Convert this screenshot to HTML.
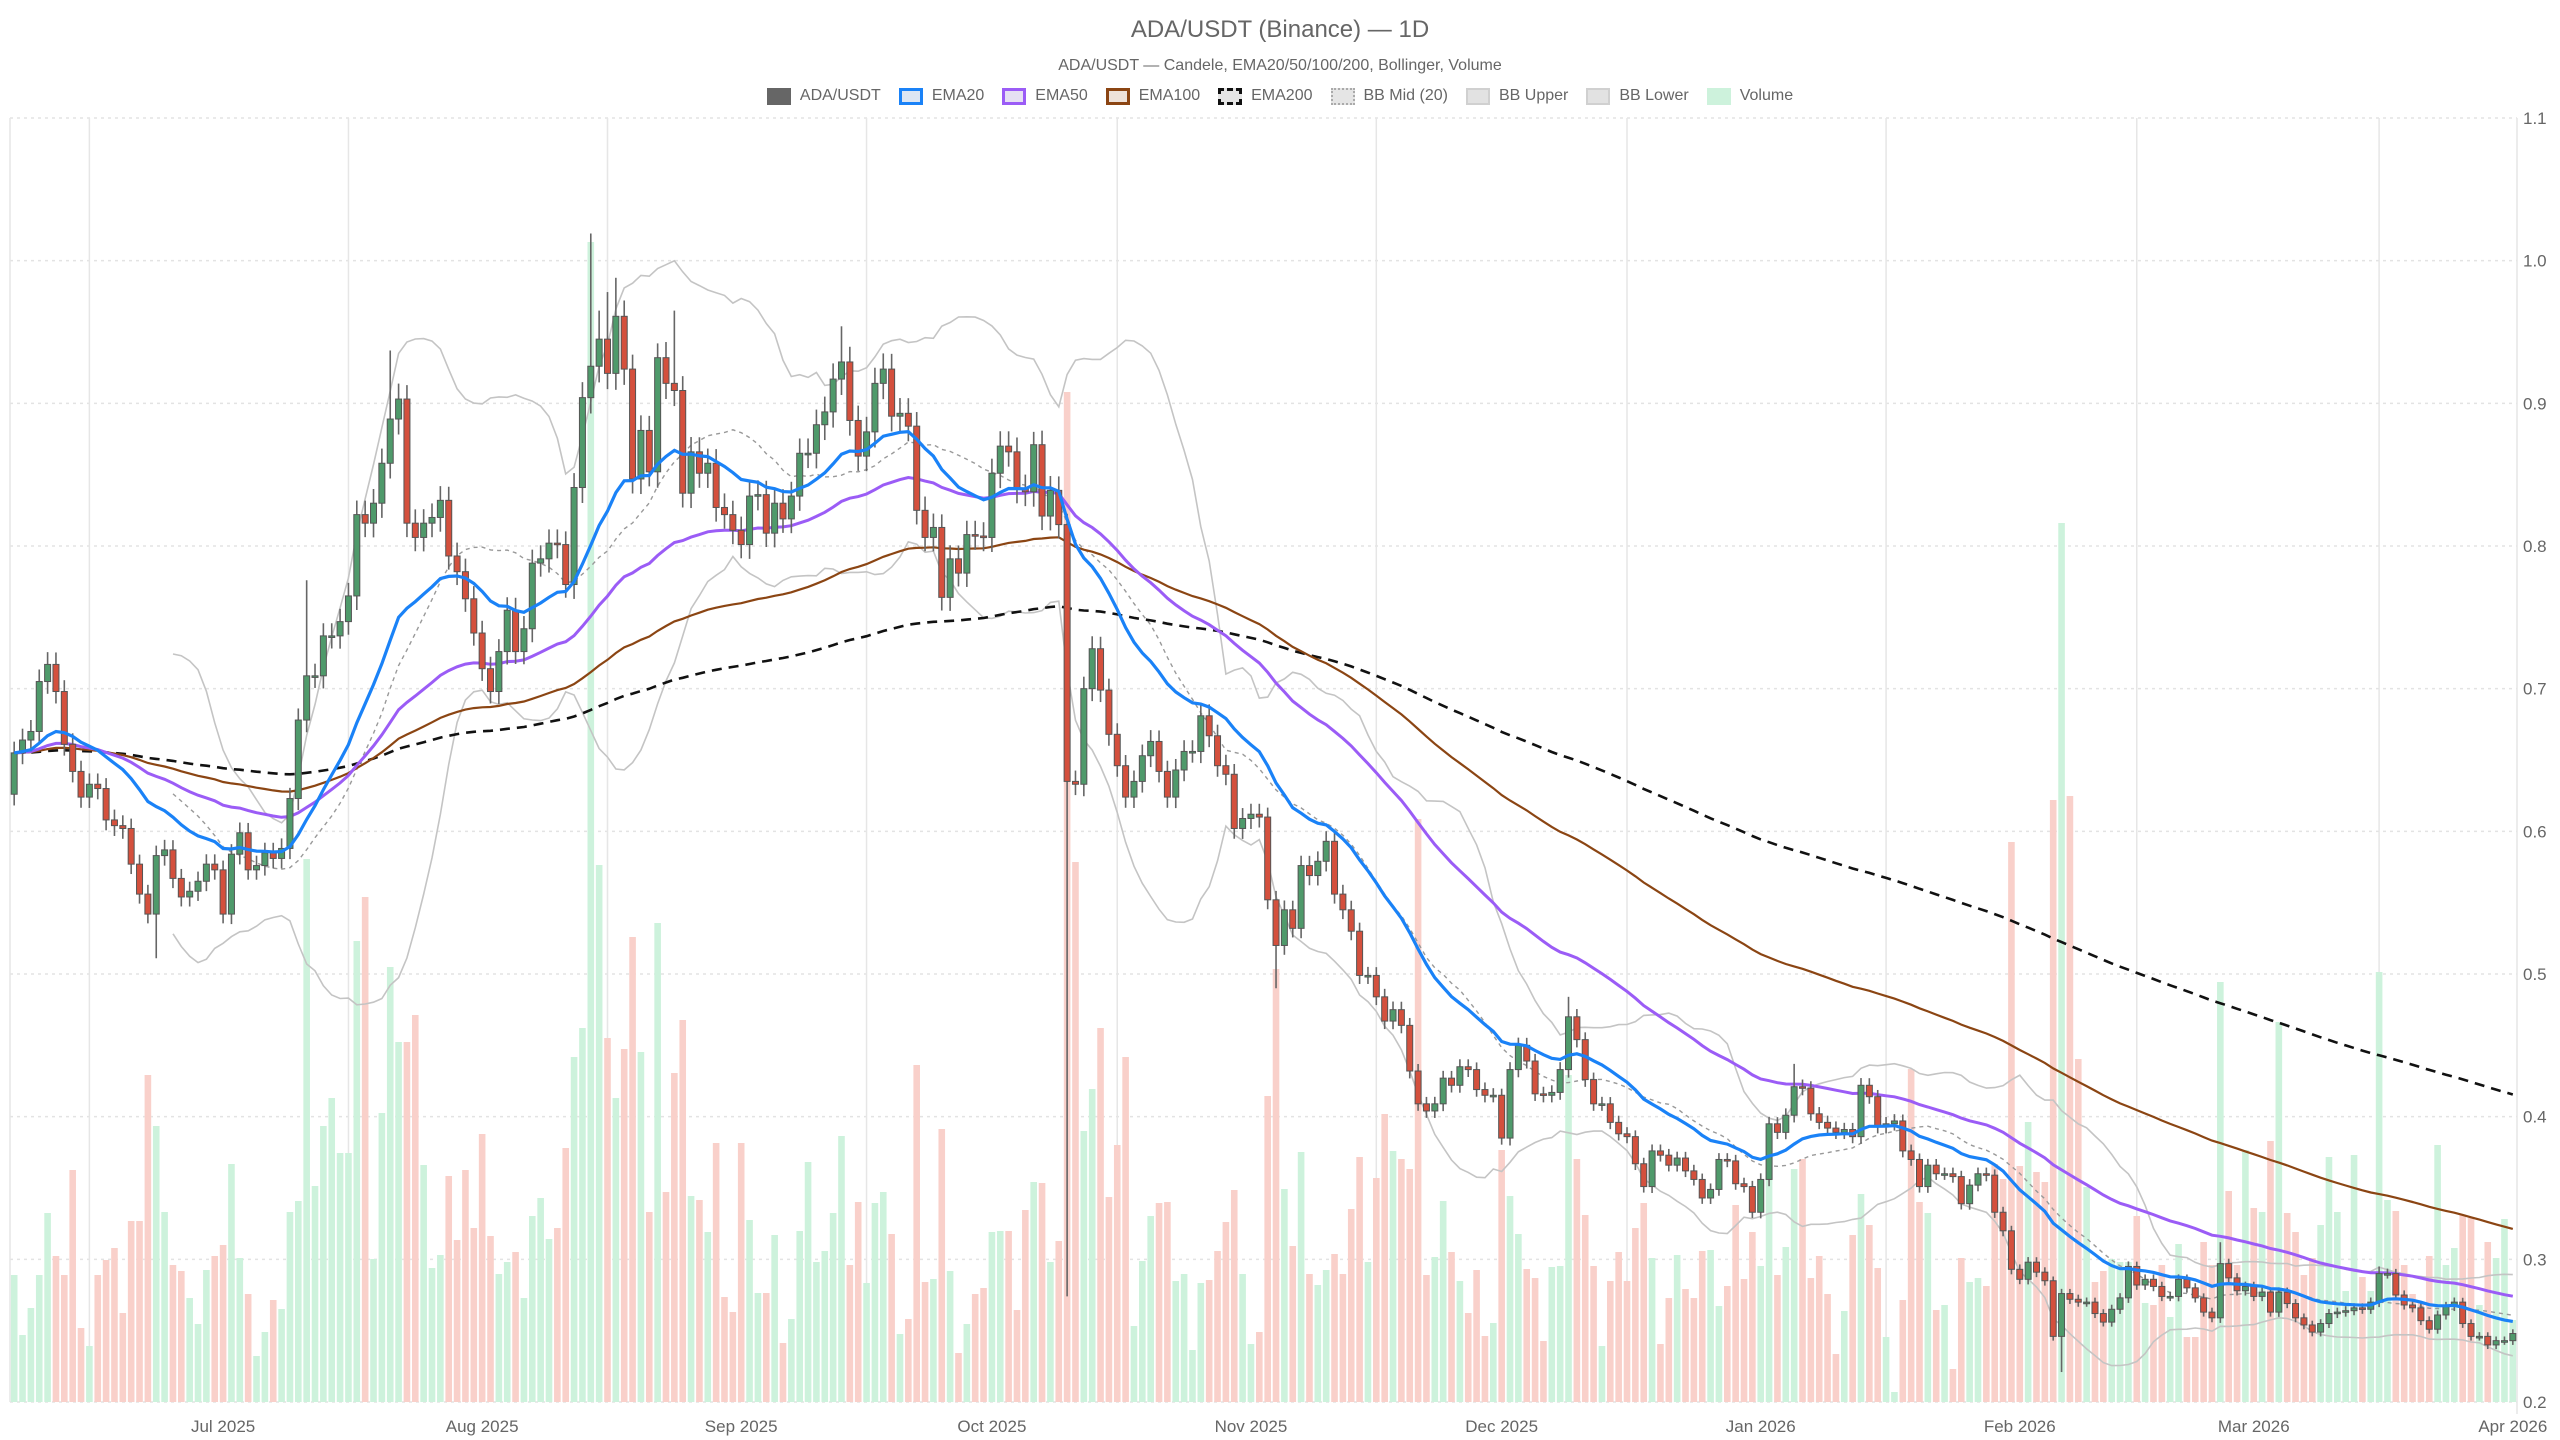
<!DOCTYPE html>
<html><head><meta charset="utf-8"><title>ADA/USDT (Binance) — 1D</title>
<style>
html,body{margin:0;padding:0;background:#fff;}
body{width:2560px;height:1440px;overflow:hidden;font-family:"Liberation Sans",sans-serif;}
#chart{position:absolute;left:0;top:0;}
.legend{position:absolute;top:87px;left:0;width:2560px;display:flex;justify-content:center;gap:0;font-size:16px;color:#666;}
.li{display:flex;align-items:center;margin:0 9px;}
.sw{width:24px;height:17px;margin-right:9px;box-sizing:border-box;}
</style></head>
<body>
<div style="position:absolute;top:16px;width:2560px;text-align:center;font-size:24px;color:#666;">ADA/USDT (Binance) — 1D</div>
<div style="position:absolute;top:57px;width:2560px;text-align:center;font-size:16px;color:#666;">ADA/USDT — Candele, EMA20/50/100/200, Bollinger, Volume</div>
<div class="legend">
 <div class="li"><div class="sw" style="background:#666;"></div>ADA/USDT</div>
 <div class="li"><div class="sw" style="background:#dde6f3;border:3px solid #1a82f7;"></div>EMA20</div>
 <div class="li"><div class="sw" style="background:#e6e0f3;border:3px solid #9b5cf6;"></div>EMA50</div>
 <div class="li"><div class="sw" style="background:#eee2da;border:3px solid #8b4513;"></div>EMA100</div>
 <div class="li"><div class="sw" style="background:#e5e5e5;border:3px dashed #111;"></div>EMA200</div>
 <div class="li"><div class="sw" style="background:#e5e5e5;border:2px dotted #aaa;"></div>BB Mid (20)</div>
 <div class="li"><div class="sw" style="background:#e2e2e2;border:2px solid #d0d0d0;"></div>BB Upper</div>
 <div class="li"><div class="sw" style="background:#e2e2e2;border:2px solid #d0d0d0;"></div>BB Lower</div>
 <div class="li"><div class="sw" style="background:#cdf2dc;"></div>Volume</div>
</div>
<svg id="chart" width="2560" height="1440" xmlns="http://www.w3.org/2000/svg"></svg>
<script>
const startDate = [2025, 5, 6];
const closes = [.655,.664,.670,.705,.717,.698,.661,.642,.624,.633,
.630,.608,.604,.602,.577,.556,.542,.583,.587,.567,
.554,.558,.565,.577,.573,.542,.584,.599,.573,.576,
.585,.581,.588,.623,.678,.709,.709,.737,.737,.747,
.765,.822,.816,.830,.858,.889,.903,.816,.806,.816,
.820,.832,.793,.782,.763,.739,.714,.698,.726,.755,
.726,.742,.788,.791,.802,.801,.773,.841,.904,.926,
.945,.921,.961,.924,.847,.881,.852,.932,.914,.909,
.837,.866,.851,.858,.827,.822,.811,.801,.835,.836,
.809,.830,.819,.835,.865,.865,.885,.894,.917,.929,
.888,.863,.880,.914,.924,.891,.893,.884,.825,.806,
.813,.764,.791,.781,.808,.807,.806,.851,.870,.866,
.840,.838,.871,.821,.839,.815,.635,.633,.700,.728,
.699,.668,.646,.624,.635,.653,.663,.642,.624,.643,
.656,.656,.681,.667,.646,.640,.602,.609,.612,.610,
.552,.520,.545,.532,.576,.569,.579,.593,.556,.545,
.530,.499,.499,.484,.467,.475,.464,.432,.409,.404,
.409,.427,.422,.435,.433,.419,.415,.415,.385,.433,
.450,.439,.416,.415,.417,.433,.470,.454,.426,.409,
.409,.396,.388,.386,.367,.351,.376,.373,.366,.371,
.362,.356,.343,.349,.370,.369,.353,.351,.333,.356,
.395,.389,.401,.421,.420,.402,.396,.392,.389,.391,
.386,.422,.414,.393,.395,.397,.376,.370,.351,.366,
.360,.360,.358,.339,.352,.360,.359,.333,.320,.293,
.286,.298,.291,.285,.246,.276,.272,.270,.270,.262,
.256,.265,.273,.295,.282,.286,.281,.274,.274,.286,
.280,.273,.263,.259,.297,.287,.278,.281,.274,.277,
.263,.277,.269,.259,.254,.249,.255,.262,.263,.264,
.266,.265,.270,.290,.290,.275,.268,.266,.257,.251,
.261,.267,.270,.255,.246,.246,.240,.243,.243,.248];
const firstOpen = 0.626;
const volumes = [127,67,94,127,189,146,127,232,74,56,
127,142,154,89,181,181,327,276,190,137,
131,104,78,132,146,157,238,144,108,46,
70,102,93,190,201,543,216,276,304,249,
249,461,505,143,289,435,360,360,387,237,
134,147,226,162,232,174,268,166,128,140,
150,104,186,204,163,174,254,345,374,1160,
537,364,304,353,465,350,190,479,210,329,
382,206,202,170,259,105,90,259,182,109,
109,167,59,83,171,240,140,151,189,266,
137,200,119,199,210,168,68,83,337,120,
123,273,131,49,78,108,114,170,171,171,
92,192,220,219,140,161,1010,540,271,313,
374,205,257,345,76,141,186,199,200,121,
128,52,119,122,151,180,212,128,58,70,
306,433,213,156,250,128,117,132,148,128,
193,245,140,224,288,251,243,233,583,127,
145,201,150,121,89,132,66,79,252,206,
168,133,124,61,135,136,327,243,187,136,
56,121,150,121,174,199,144,58,104,147,
113,104,151,152,96,116,197,123,170,136,
234,127,155,233,243,124,146,108,48,91,
167,208,177,134,65,10,102,333,200,189,
92,97,33,144,120,124,116,238,223,560,
236,280,230,220,602,879,606,343,215,120,
131,143,140,140,186,99,97,137,85,158,
65,65,160,137,420,211,137,252,194,190,
261,380,189,170,127,144,177,245,190,111,
247,125,111,430,202,191,137,108,100,146,
257,137,154,187,184,97,160,144,183,82];
const bigHighIdx = [35,45,69,70,71,72,77,79,99,104,122,186,213,264,283];
const bigHighVal = [.776,.937,1.019,.965,.978,.988,.942,.965,.954,.935,.880,.484,.437,.312,.295];
const bigLowIdx = [17,126,151,245];
const bigLowVal = [.511,.274,.490,.221];
const yTicks = [0.2,0.3,0.4,0.5,0.6,0.7,0.8,0.9,1.0,1.1];
const yTickLabels = ["0.2","0.3","0.4","0.5","0.6","0.7","0.8","0.9","1.0","1.1"];
const monthLabels = ["Jul 2025","Aug 2025","Sep 2025","Oct 2025","Nov 2025","Dec 2025","Jan 2026","Feb 2026","Mar 2026","Apr 2026"];
const monthDates = [[2025,6,1],[2025,7,1],[2025,8,1],[2025,9,1],[2025,10,1],[2025,11,1],[2026,0,1],[2026,1,1],[2026,2,1],[2026,3,1]];
const gridDates = [[2025,5,15],[2025,6,16],[2025,7,16],[2025,8,16],[2025,9,16],[2025,10,16],[2025,11,16],[2026,0,16],[2026,1,15],[2026,2,16]];

const NS = "http://www.w3.org/2000/svg";
const svg = document.getElementById('chart');
const L = 10, R = 2517, T = 118, B = 1402;
const N = closes.length;
const step = (R - L) / N;
const yMin = 0.2, yMax = 1.1;
const volMax = 1284;
function xScale(i){ return L + (i + 0.5) * step; }
function yScale(p){ return B - (p - yMin) / (yMax - yMin) * (B - T); }
function vScale(v){ return v / volMax * (B - T); }
function dateIdx(d){ const t0 = Date.UTC(startDate[0],startDate[1],startDate[2]); return (Date.UTC(d[0],d[1],d[2]) - t0) / 86400000; }
function mk(tag, attrs){ const e = document.createElementNS(NS, tag); for (const k in attrs) e.setAttribute(k, attrs[k]); svg.appendChild(e); return e; }

const opens = closes.map((c, i) => i === 0 ? firstOpen : closes[i-1]);
const highs = closes.map((c, i) => Math.max(c, opens[i]) + 0.012 * c);
const lows = closes.map((c, i) => Math.min(c, opens[i]) - 0.012 * c);
bigHighIdx.forEach((k, j) => { highs[k] = bigHighVal[j]; });
bigLowIdx.forEach((k, j) => { lows[k] = bigLowVal[j]; });

yTicks.forEach((t, j) => {
  const g = mk('line', {x1:L, x2:R, y1:yScale(t), y2:yScale(t), stroke:'#e3e3e3', 'stroke-width':1.5, 'stroke-dasharray':'3,4'});
  
  
  const tx = mk('text', {x:R + 6, y:yScale(t) + 6, 'font-size':17, fill:'#666', 'font-family':'Liberation Sans, sans-serif'});
  tx.textContent = yTickLabels[j];
  
  
});
gridDates.forEach(d => {
  const x = xScale(dateIdx(d));
  const g = mk('line', {x1:x, x2:x, y1:T, y2:B, stroke:'#e6e6e6', 'stroke-width':1.5});
  
  
});
const ax1 = mk('line', {x1:L, x2:L, y1:T, y2:B, stroke:'#e6e6e6', 'stroke-width':1.5});


const ax2 = mk('line', {x1:R, x2:R, y1:T, y2:B + 12, stroke:'#e6e6e6', 'stroke-width':1.5});


monthDates.forEach((d, j) => {
  const tx = mk('text', {x:xScale(dateIdx(d)), y:1432, 'font-size':17, fill:'#666', 'text-anchor':'middle', 'font-family':'Liberation Sans, sans-serif'});
  tx.textContent = monthLabels[j];
  
  
});

closes.forEach((c, i) => {
  const up = c >= opens[i];
  const h = vScale(volumes[i]);
  const r = mk('rect', {x:xScale(i) - 3.3, y:B - h, width:6.6, height:h, fill: up ? '#cdf2dc' : '#f9d0ca'});
  
  
});

function ema(period){ const k = 2/(period+1); const out = []; closes.forEach((c,i)=>{ out.push(i===0 ? c : c*k + out[i-1]*(1-k)); }); return out; }
function pathFrom(vals, start){ let d=''; for(let i=start;i<vals.length;i++){ d += (i===start?'M':'L') + xScale(i).toFixed(1) + ',' + yScale(vals[i]).toFixed(1); } return d; }
const mid=[], up=[], lo=[];
for (let i=0;i<N;i++){
  if (i<19){ mid.push(null); up.push(null); lo.push(null); continue; }
  const w = closes.slice(i-19,i+1); const m = w.reduce((a,b)=>a+b,0)/20;
  const sd = Math.sqrt(w.reduce((a,b)=>a+(b-m)*(b-m),0)/20);
  mid.push(m); up.push(m+2*sd); lo.push(m-2*sd);
}
const bbU = mk('path', {d:pathFrom(up,19), fill:'none', stroke:'#c4c4c4', 'stroke-width':1.6});


const bbL = mk('path', {d:pathFrom(lo,19), fill:'none', stroke:'#c4c4c4', 'stroke-width':1.6});


const bbM = mk('path', {d:pathFrom(mid,19), fill:'none', stroke:'#999', 'stroke-width':1.4, 'stroke-dasharray':'4,4'});


const e200 = mk('path', {d:pathFrom(ema(200),0), fill:'none', stroke:'#111', 'stroke-width':2.6, 'stroke-dasharray':'10,7'});


const e100 = mk('path', {d:pathFrom(ema(100),0), fill:'none', stroke:'#8b4513', 'stroke-width':2.2});


const e50 = mk('path', {d:pathFrom(ema(50),0), fill:'none', stroke:'#9b5cf6', 'stroke-width':3});



closes.forEach((c, i) => {
  const o = opens[i], isUp = c >= o, x = xScale(i);
  const wk = mk('line', {x1:x, x2:x, y1:yScale(highs[i]), y2:yScale(lows[i]), stroke:'#666', 'stroke-width':1.6});
  
  
  const yt = yScale(Math.max(o,c)), yb = yScale(Math.min(o,c));
  const b = mk('rect', {x:x-3, y:yt, width:6, height:Math.max(1.6, yb-yt), fill: isUp ? '#4f9a6b' : '#d4503d', stroke:'#555', 'stroke-width':1});
  
  
});
const e20 = mk('path', {d:pathFrom(ema(20),0), fill:'none', stroke:'#1a82f7', 'stroke-width':3.2});


</script>
</body></html>
